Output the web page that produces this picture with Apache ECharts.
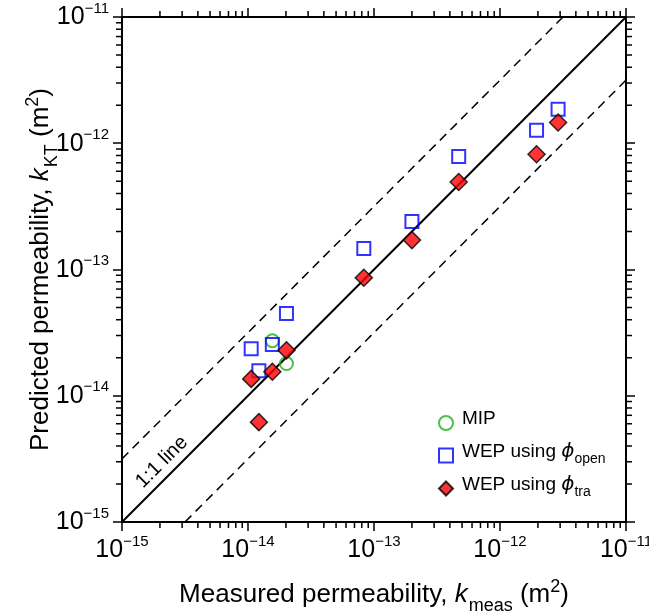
<!DOCTYPE html>
<html>
<head>
<meta charset="utf-8">
<script src="https://cdn.jsdelivr.net/npm/echarts@6/dist/echarts.min.js"></script>
<style>
html,body{margin:0;padding:0;background:#fff;}
#chart{width:649px;height:612px;}
</style>
</head>
<body>
<div id="chart"></div>
<script>
// ---- data ----
const axisMin = 1e-15;
const axisMax = 1e-11;
const tickExponents = [-15, -14, -13, -12, -11];

const mipMeasured = [1.56e-14, 2.02e-14];
const mipPredicted = [2.73e-14, 1.80e-14];

const wepMeasured = [1.06e-14, 1.22e-14, 1.56e-14, 2.02e-14, 8.3e-14, 2.0e-13, 4.7e-13, 1.95e-12, 2.89e-12];
const wepOpenPredicted = [2.36e-14, 1.58e-14, 2.55e-14, 4.48e-14, 1.47e-13, 2.40e-13, 7.84e-13, 1.27e-12, 1.86e-12];
const wepTraPredicted = [1.36e-14, 6.18e-15, 1.55e-14, 2.29e-14, 8.6e-14, 1.71e-13, 4.93e-13, 8.18e-13, 1.46e-12];

const oneToOneLine = [[1e-15, 1e-15], [1e-11, 1e-11]];
const upperBoundLine = [[1e-15, 3.162e-15], [3.162e-12, 1e-11]];
const lowerBoundLine = [[3.162e-15, 1e-15], [1e-11, 3.162e-12]];

const seriesNames = ['MIP', 'WEP open', 'WEP tra'];
const lineLabelText = '1:1 line';

// ---- helpers ----
const minorTicks = [];
for (let e = -15; e < -11; e++) {
  for (let m = 2; m <= 9; m++) minorTicks.push(m * Math.pow(10, e));
}
function zip(a, b) { return a.map((v, i) => [v, b[i]]); }
function expLabel(v) {
  const e = Math.round(Math.log10(v));
  return '{b|10}{s|' + (e < 0 ? '\u2212' : '') + Math.abs(e) + '}';
}
const FONT = 'Liberation Sans, Arial, sans-serif';
const tickRich = {
  b: {fontSize: 25, lineHeight: 26, fontFamily: FONT, color: '#000', verticalAlign: 'bottom'},
  s: {fontSize: 15, lineHeight: 16, fontFamily: FONT, color: '#000', verticalAlign: 'bottom', padding: [0, 0, 14, 0]}
};
const nameRich = {
  t: {fontSize: 26, lineHeight: 27, fontFamily: FONT, color: '#000', verticalAlign: 'bottom', padding: [0, 0, 7, 0]},
  i: {fontSize: 26, lineHeight: 27, fontFamily: FONT, fontStyle: 'italic', color: '#000', verticalAlign: 'bottom', padding: [0, 0, 7, 0]},
  sub: {fontSize: 18, lineHeight: 19, fontFamily: FONT, color: '#000', verticalAlign: 'bottom', padding: [0, 0, 0, 1]},
  sup: {fontSize: 18, lineHeight: 19, fontFamily: FONT, color: '#000', verticalAlign: 'bottom', padding: [0, 0, 19, 0]}
};
const legendRich = {
  t: {fontSize: 19, lineHeight: 20, fontFamily: FONT, color: '#000', verticalAlign: 'bottom', padding: [0, 0, 5, 4]},
  p: {fontSize: 20, lineHeight: 21, fontFamily: 'DejaVu Sans, sans-serif', fontStyle: 'italic', color: '#000', verticalAlign: 'bottom', padding: [0, 0, 4, 0]},
  sub: {fontSize: 14, lineHeight: 15, fontFamily: FONT, color: '#000', verticalAlign: 'bottom', padding: [0, 0, 0, 0]}
};
const legendFormat = {
  'MIP': '{t|MIP}',
  'WEP open': '{t|WEP using }{p|\u03D5}{sub|open}',
  'WEP tra': '{t|WEP using }{p|\u03D5}{sub|tra}'
};

function baseAxis(extra) {
  return Object.assign({
    type: 'log', logBase: 10, min: axisMin, max: axisMax,
    axisLine: {show: true, onZero: false, lineStyle: {color: '#000', width: 2}},
    axisTick: {show: true, inside: false, length: 9, lineStyle: {color: '#000', width: 1.5}},
    splitLine: {show: false},
    minorTick: {show: false},
    axisLabel: {show: false},
    nameMoveOverlap: false
  }, extra);
}

const option = {
  animation: false,
  backgroundColor: '#fff',
  grid: {left: 122, right: 23, top: 17, bottom: 90, outerBoundsMode: 'none', containLabel: false},
  xAxis: [
    baseAxis({
      position: 'bottom',
      axisLabel: {show: true, formatter: expLabel, margin: 15, rich: tickRich, showMinLabel: true, showMaxLabel: true},
      name: '{t|Measured permeability, }{i|k}{sub|meas}{t| (m}{sup|2}{t|)}',
      nameLocation: 'middle', nameGap: 66,
      nameTextStyle: {rich: nameRich}
    }),
    baseAxis({position: 'top'})
  ],
  yAxis: [
    baseAxis({
      position: 'left',
      axisLabel: {show: true, formatter: expLabel, margin: 13, rich: tickRich, showMinLabel: true, showMaxLabel: true},
      name: '{t|Predicted permeability, }{i|k}{sub|KT}{t| (m}{sup|2}{t|)}',
      nameLocation: 'middle', nameGap: 61, nameRotate: 90,
      nameTextStyle: {rich: nameRich}
    }),
    baseAxis({position: 'right'})
  ],
  legend: {
    orient: 'vertical', left: 433, top: 404,
    itemWidth: 14, itemHeight: 14, itemGap: 9,
    data: seriesNames,
    formatter: n => legendFormat[n],
    textStyle: {rich: legendRich},
    selectedMode: false
  },
  series: [
    {
      type: 'custom', silent: true, clip: false, z: 1,
      data: minorTicks.map(v => [v, v]),
      renderItem: function (params, api) {
        const v = api.value(0);
        const lb = api.coord([axisMin, axisMin]);
        const rt = api.coord([axisMax, axisMax]);
        const px = api.coord([v, axisMin])[0];
        const py = api.coord([axisMin, v])[1];
        const st = {stroke: '#000', lineWidth: 1.5};
        const L = 6;
        return {
          type: 'group',
          children: [
            {type: 'line', shape: {x1: px, y1: lb[1], x2: px, y2: lb[1] + L}, style: st},
            {type: 'line', shape: {x1: px, y1: rt[1], x2: px, y2: rt[1] - L}, style: st},
            {type: 'line', shape: {x1: lb[0], y1: py, x2: lb[0] - L, y2: py}, style: st},
            {type: 'line', shape: {x1: rt[0], y1: py, x2: rt[0] + L, y2: py}, style: st}
          ]
        };
      }
    },
    {type: 'line', data: oneToOneLine, symbol: 'none', silent: true, lineStyle: {color: '#000', width: 2}, z: 2},
    {type: 'line', data: upperBoundLine, symbol: 'none', silent: true, lineStyle: {color: '#000', width: 1.5, type: [9, 6]}, z: 2},
    {type: 'line', data: lowerBoundLine, symbol: 'none', silent: true, lineStyle: {color: '#000', width: 1.5, type: [9, 6]}, z: 2},
    {
      name: seriesNames[0], type: 'scatter', data: zip(mipMeasured, mipPredicted),
      symbol: 'circle', symbolSize: 13, z: 3,
      itemStyle: {color: 'rgba(0,0,0,0)', borderColor: '#1fae1f', borderWidth: 2},
      emphasis: {disabled: true}
    },
    {
      name: seriesNames[1], type: 'scatter', data: zip(wepMeasured, wepOpenPredicted),
      symbol: 'rect', symbolSize: 13, z: 4,
      itemStyle: {color: 'rgba(0,0,0,0)', borderColor: '#0000ff', borderWidth: 2},
      emphasis: {disabled: true}
    },
    {
      name: seriesNames[2], type: 'scatter', data: zip(wepMeasured, wepTraPredicted),
      symbol: 'diamond', symbolSize: 17, z: 5,
      itemStyle: {color: '#ff0000', borderColor: '#000', borderWidth: 1.5},
      emphasis: {disabled: true}
    }
  ]
};

const chart = echarts.init(document.getElementById('chart'), null, {renderer: 'canvas'});
chart.setOption(option);

const labelAnchor = chart.convertToPixel({gridIndex: 0}, [2.07e-15, 2.98e-15]);
chart.setOption({
  graphic: [{
    type: 'text', x: labelAnchor[0], y: labelAnchor[1], rotation: Math.PI / 4,
    style: {text: lineLabelText, fontSize: 20, fontFamily: FONT, fill: '#000', align: 'center', verticalAlign: 'middle'},
    z: 10
  }]
});
</script>
</body>
</html>
